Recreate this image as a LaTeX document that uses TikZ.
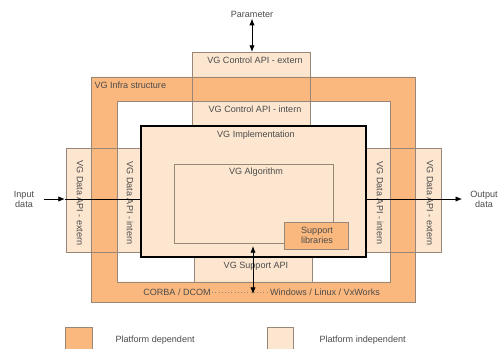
\documentclass[tikz,border=0pt]{standalone}
\usepackage{fontspec}
\setmainfont{Liberation Sans}
\usetikzlibrary{arrows.meta}

\definecolor{pdep}{RGB}{250,184,126}
\definecolor{pind}{RGB}{253,230,207}
\definecolor{edgegray}{RGB}{150,135,120}
\definecolor{txtgray}{RGB}{75,75,75}

\tikzset{every picture/.style={line width=0.75pt}}
\tikzset{
  lightbox/.style={fill=pind, draw=edgegray, line width=0.45pt},
  darkbox/.style={fill=pdep, draw=edgegray, line width=0.45pt},
  outline/.style={draw=edgegray, line width=0.45pt},
  lbl/.style={inner sep=0.75pt, text=txtgray, font=\fontsize{6.8}{7.6}\selectfont, align=center},
  conn/.style={line width=0.6pt, -{Latex[length=5pt,width=4pt]}},
  bothconn/.style={line width=0.6pt, {Latex[length=5pt,width=4pt]}-{Latex[length=5pt,width=4pt]}}
}

\begin{document}
\begin{tikzpicture}[x=0.75pt,y=0.75pt,yscale=-1,xscale=1]
\clip (0,0) rectangle (504,349);
\fill[white] (0,0) rectangle (504,349);

%Shape: Rectangle [control API column]
\draw[lightbox] (192,52) rectangle (310,126);
%Shape: Rectangle [data API left]
\draw[lightbox] (66,148) rectangle (141,252);
%Shape: Rectangle [data API right]
\draw[lightbox] (366,148) rectangle (441,252);
%Shape: Rectangle [support API]
\draw[lightbox] (194,250) rectangle (312,282);

%Shape: Frame [infra structure]
\draw[darkbox, even odd rule] (91,77) rectangle (415,302) (117,101) rectangle (390,282);

%Straight Lines [column edges over the frame]
\draw[outline] (192,52) rectangle (310,126);
\draw[outline] (66,148) rectangle (141,252);
\draw[outline] (366,148) rectangle (441,252);

%Shape: Rectangle [implementation]
\draw[fill=pind, draw=black, line width=1.5pt] (141,126) rectangle (366,257);
%Shape: Rectangle [algorithm]
\draw[lightbox] (174,164) rectangle (333,243);
%Shape: Rectangle [support libraries]
\draw[darkbox] (284,222) rectangle (348,249);

% Text Node
\node[lbl] (param) at (252,14) {Parameter};
% Text Node
\node[lbl] (ctrlext) at (255,60) {VG Control API - extern};
% Text Node
\node[lbl] (ctrlint) at (255,109) {VG Control API - intern};
% Text Node
\node[lbl, anchor=west] (infra) at (93,85) {VG Infra structure};
% Text Node
\node[lbl] (impl) at (256,135) {VG Implementation};
% Text Node
\node[lbl] (algo) at (256,172) {VG Algorithm};
% Text Node
\node[lbl] (suplib) at (317,235) {Support\\libraries};
% Text Node
\node[lbl] (supapi) at (256,266) {VG Support API};
% Text Node
\node[lbl] (corba) at (177,292) {CORBA / DCOM};
% Text Node
\node[lbl] (oswin) at (325,292) {Windows / Linux / VxWorks};
% Text Node
\node[lbl, rotate=-90] (dataextl) at (80,203) {VG Data API - extern};
% Text Node
\node[lbl, rotate=-90] (dataintl) at (130,203) {VG Data API - intern};
% Text Node
\node[lbl, rotate=-90] (dataintr) at (380,203) {VG Data API - intern};
% Text Node
\node[lbl, rotate=-90] (dataextr) at (430,203) {VG Data API - extern};
% Text Node
\node[lbl] (indata) at (24,199) {Input\\data};
% Text Node
\node[lbl] (outdata) at (484,199) {Output\\data};

%Straight Lines [connectors]
\coordinate (ctrltop) at (252,52);
\coordinate (inedge) at (65,199);
\coordinate (implleft) at (141,199);
\coordinate (implright) at (366,199);
\coordinate (apitop) at (253,246);
\coordinate (apibot) at (253,294);
\draw[bothconn] (param) -- (ctrltop);
\draw[conn, shorten <=6pt] (indata) -- (inedge);
\draw[line width=0.6pt] (inedge) -- (implleft);
\draw[conn, shorten >=5pt] (implright) -- (outdata);
\draw[bothconn] (apitop) -- (apibot);
\draw[edgegray, line width=0.4pt, dotted] (corba) -- (oswin);

%Shape: Rectangle [legend]
\draw[darkbox] (65,327) rectangle (92,352);
\draw[lightbox] (267,327) rectangle (293,352);
% Text Node
\node[lbl, anchor=west] (legdep) at (114,340) {Platform dependent};
% Text Node
\node[lbl, anchor=west] (legind) at (318,340) {Platform independent};

\end{tikzpicture}
\end{document}
